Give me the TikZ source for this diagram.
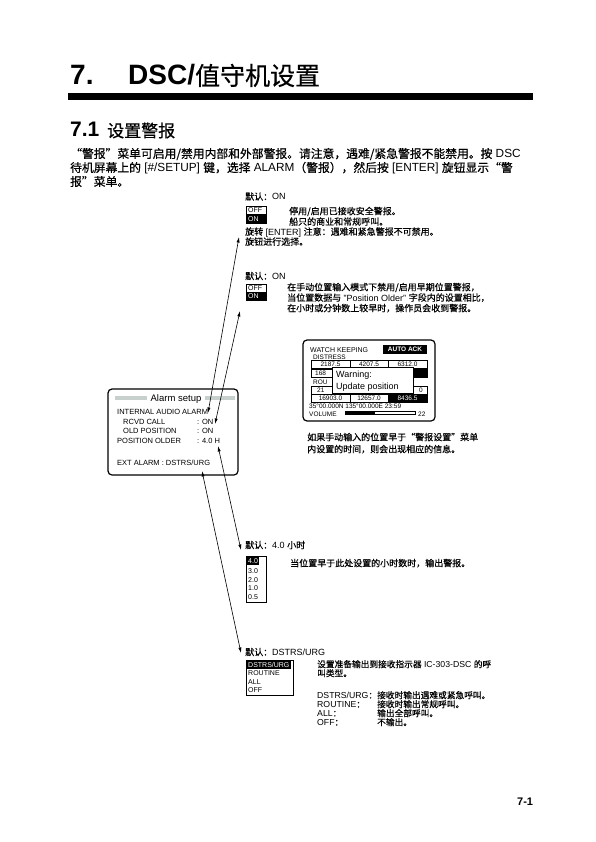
\documentclass[tikz,border=0pt]{standalone}
\usepackage{fontspec}
\setmainfont{Liberation Sans}
\newfontfamily\cjk[FakeBold=0.5]{Noto Sans CJK SC}
\usetikzlibrary{arrows.meta}
\newcommand\zhc[1]{{\cjk #1}}
\newcommand\fsz[1]{\fontsize{#1}{#1}\selectfont}
\definecolor{bargray}{RGB}{200,208,206}
\tikzset{
  tx/.style={anchor=base west,inner sep=0pt,font=\fsz{9}},
  txf/.style={anchor=base west,inner sep=0pt,font=\fsz{8.7}},
  smtx/.style={anchor=base west,inner sep=0pt,font=\fsz{7.5}},
  boxtx/.style={anchor=base west,inner sep=0pt,font=\fsz{7}},
  tinytx/.style={anchor=base west,inner sep=0pt,font=\fsz{6.5}},
  celltx/.style={anchor=base,inner sep=0pt,font=\fsz{6.5}},
  bodytx/.style={anchor=base west,inner sep=0pt,font=\fsz{11.8}},
  dbl/.style={{Latex[length=5.5pt,width=3.2pt]}-{Latex[length=5.5pt,width=3.2pt]},line width=0.6pt},
  scrframe/.style={line width=1.2pt,rounded corners=4pt},
}
\begin{document}
\begin{tikzpicture}[x=1pt,y=-1pt]
\useasboundingbox (0,0) rectangle (595,842);
\fill[white] (0,0) rectangle (595,842);

% ---------- title ----------
\node[anchor=base west,inner sep=0pt,font=\bfseries\fsz{28}] (t7) at (70,85) {7.};
\node[anchor=base west,inner sep=0pt,font=\fsz{28}] (tdsc) at (128,85) {\textbf{DSC/}{\cjk\fsz{25}值守机设置}};
\fill (68,93) rectangle (533,100);

\node[anchor=base west,inner sep=0pt,font=\bfseries\fsz{21}] (h71) at (70,137) {7.1};
\node[anchor=base west,inner sep=0pt,font=\cjk\fsz{17}] (h71t) at (107,137) {设置警报};

% ---------- body ----------
\node[bodytx] (p1) at (70,158) {\zhc{“警报”菜单可启用/禁用内部和外部警报。请注意，遇难/紧急警报不能禁用。按} DSC};
\node[bodytx] (p2) at (70,172) {\zhc{待机屏幕上的} [\#/SETUP] \zhc{键，选择} ALARM\zhc{（警报），然后按} [ENTER] \zhc{旋钮显示“警}};
\node[bodytx] (p3) at (70,186) {\zhc{报”菜单。}};

% ---------- block 1 ----------
\node[tx] (d1) at (245,200) {\zhc{默认：}ON};
\draw[line width=0.6pt] (246,206) rectangle (266,223);
\draw[line width=1.4pt] (266.6,207) -- (266.6,223.6) -- (247,223.6);
\fill (246,214.5) rectangle (266,223);
\node[boxtx] (o1a) at (248,212.5) {OFF};
\node[boxtx,text=white] (o1b) at (248,221.5) {ON};
\node[tx] (b1a) at (289,214.5) {\zhc{停用/启用已接收安全警报。}};
\node[tx] (b1b) at (289,225) {\zhc{船只的商业和常规呼叫。}};
\node[tx] (b1c) at (245,235) {\zhc{旋转} [ENTER] \zhc{注意：遇难和紧急警报不可禁用。}};
\node[tx] (b1d) at (245,245) {\zhc{旋钮进行选择。}};

% ---------- block 2 ----------
\node[tx] (d2) at (245,279.5) {\zhc{默认：}ON};
\draw[line width=0.6pt] (246,284) rectangle (266,300);
\draw[line width=1.4pt] (266.6,285) -- (266.6,300.6) -- (247,300.6);
\fill (246,292) rectangle (266,300);
\node[boxtx] (o2a) at (248,290.5) {OFF};
\node[boxtx,text=white] (o2b) at (248,298.8) {ON};
\node[tx] (b2a) at (287,290.5) {\zhc{在手动位置输入模式下禁用/启用早期位置警报，}};
\node[tx] (b2b) at (287,301) {\zhc{当位置数据与} "Position Older" \zhc{字段内的设置相比，}};
\node[tx] (b2c) at (287,311.5) {\zhc{在小时或分钟数上较早时，操作员会收到警报。}};

% ---------- watch keeping screen ----------
\draw[scrframe] (303,340) rectangle (435,421);
\node[tinytx,font=\fsz{7}] (wk) at (310,352.5) {WATCH KEEPING};
\fill (383,345) rectangle (427,354);
\node[anchor=center,inner sep=0pt,font=\bfseries\fsz{6.5},text=white] (ack) at (405,349.7) {AUTO ACK};
\node[tinytx] (dis) at (313,359) {DISTRESS};
\draw[line width=0.5pt] (311,360) rectangle (427,368);
\draw[line width=0.5pt] (350,360) -- (350,368) (388,360) -- (388,368);
\node[celltx] (c11) at (330.5,366.5) {2187.5};
\node[celltx] (c12) at (369,366.5) {4207.5};
\node[celltx] (c13) at (407.5,366.5) {6312.0};
\draw[line width=0.5pt] (311,369) rectangle (427,377);
\fill (388,369) rectangle (427,377);
\node[tinytx] (c21) at (315,375.5) {168};
\node[tinytx] (rou) at (313,384.5) {ROU};
\draw[line width=0.5pt] (311,386) rectangle (427,394);
\node[tinytx] (c31) at (317,392.5) {21};
\node[anchor=base east,inner sep=0pt,font=\fsz{6.5}] (c33) at (423,392.5) {0};
\draw[line width=0.5pt] (311,394) rectangle (427,402);
\draw[line width=0.5pt] (350,394) -- (350,402) (388,394) -- (388,402);
\fill (388,394) rectangle (427,402);
\node[celltx] (c41) at (330.5,400.5) {16903.0};
\node[celltx] (c42) at (369,400.5) {12657.0};
\node[celltx,text=white] (c43) at (407.5,400.5) {8436.5};
\node[tinytx] (pos) at (309,408) {35°00.000N 135°00.000E 23:59};
\node[tinytx] (vol) at (309,416) {VOLUME};
\draw[line width=0.5pt] (345,411.5) rectangle (415,414.5);
\fill (345,411.5) rectangle (375,414.5);
\node[tinytx] (v22) at (418,416) {22};
\draw[fill=white,line width=0.7pt] (332,367) rectangle (413,393);
\node[anchor=base west,inner sep=0pt,font=\fsz{9}] (warn1) at (336,377) {Warning:};
\node[anchor=base west,inner sep=0pt,font=\fsz{9}] (warn2) at (336,389.5) {Update position};
\node[tx] (cap1) at (307,440.5) {\zhc{如果手动输入的位置早于“警报设置”菜单}};
\node[tx] (cap2) at (307,452.5) {\zhc{内设置的时间，则会出现相应的信息。}};

% ---------- alarm setup screen ----------
\draw[scrframe] (108,389) rectangle (238,475);
\fill[bargray] (115,395.5) rectangle (147,400);
\fill[bargray] (205,395.5) rectangle (235,400);
\node[anchor=base,inner sep=0pt,font=\fsz{9.5}] (ast) at (176,401.5) {Alarm setup};
\node[smtx] (al1) at (117,414.7) {INTERNAL AUDIO ALARM};
\node[smtx] (al2) at (123,424.7) {RCVD CALL};
\node[smtx] (al2v) at (197,424.7) {: ON};
\node[smtx] (al3) at (123,433.7) {OLD POSITION};
\node[smtx] (al3v) at (197,433.7) {: ON};
\node[smtx] (al4) at (117,443.7) {POSITION OLDER};
\node[smtx] (al4v) at (197,443.7) {: 4.0 H};
\node[smtx] (al5) at (117,465.7) {EXT ALARM : DSTRS/URG};

% ---------- block 3 ----------
\node[tx] (d3) at (245,548.5) {\zhc{默认：}4.0 \zhc{小时}};
\draw[line width=0.6pt] (246,556) rectangle (266,602);
\draw[line width=1.4pt] (266.6,557) -- (266.6,602.6) -- (247,602.6);
\fill (247,556.8) rectangle (259,564.8);
\node[boxtx,text=white] (l1) at (248,563.5) {4.0};
\node[boxtx] (l2) at (248,573.5) {3.0};
\node[boxtx] (l3) at (248,582) {2.0};
\node[boxtx] (l4) at (248,590.5) {1.0};
\node[boxtx] (l5) at (248,599) {0.5};
\node[tx] (b3a) at (290,566.5) {\zhc{当位置早于此处设置的小时数时，输出警报。}};

% ---------- block 4 ----------
\node[tx] (d4) at (245,655.5) {\zhc{默认：}DSTRS/URG};
\draw[line width=0.6pt] (246,660) rectangle (293,695);
\draw[line width=1.4pt] (293.6,661) -- (293.6,695.6) -- (247,695.6);
\fill (247,660.8) rectangle (291,668.5);
\node[boxtx,text=white] (m1) at (248,667.3) {DSTRS/URG};
\node[boxtx] (m2) at (248,675.8) {ROUTINE};
\node[boxtx] (m3) at (248,684.3) {ALL};
\node[boxtx] (m4) at (248,692.8) {OFF};
\node[txf] (b4a) at (317,667.5) {\zhc{设置准备输出到接收指示器} IC-303-DSC \zhc{的呼}};
\node[txf] (b4b) at (317,676.5) {\zhc{叫类型。}};
\node[txf] (b4c) at (317,698.5) {DSTRS/URG\zhc{：}};
\node[txf] (b4c2) at (377,698.5) {\zhc{接收时输出遇难或紧急呼叫。}};
\node[txf] (b4d) at (317,707.5) {ROUTINE\zhc{：}};
\node[txf] (b4d2) at (377,707.5) {\zhc{接收时输出常规呼叫。}};
\node[txf] (b4e) at (317,716.5) {ALL\zhc{：}};
\node[txf] (b4e2) at (377,716.5) {\zhc{输出全部呼叫。}};
\node[txf] (b4f) at (317,725.5) {OFF\zhc{：}};
\node[txf] (b4f2) at (377,725.5) {\zhc{不输出。}};

% ---------- page number ----------
\node[anchor=base west,inner sep=0pt,font=\bfseries\fsz{11}] (pg) at (517,805) {7-1};

% ---------- connectors ----------
\coordinate (a1t) at (239,237);
\coordinate (a1b) at (208,413);
\coordinate (a2t) at (240,311);
\coordinate (a2b) at (215,424);
\coordinate (a3t) at (218,446);
\coordinate (a3b) at (241,550);
\coordinate (a4t) at (202,471);
\coordinate (a4b) at (241,653);
\draw[dbl] (a1b) -- (a1t);
\draw[dbl] (a2b) -- (a2t);
\draw[dbl] (a3t) -- (a3b);
\draw[dbl] (a4t) -- (a4b);
\end{tikzpicture}
\end{document}
